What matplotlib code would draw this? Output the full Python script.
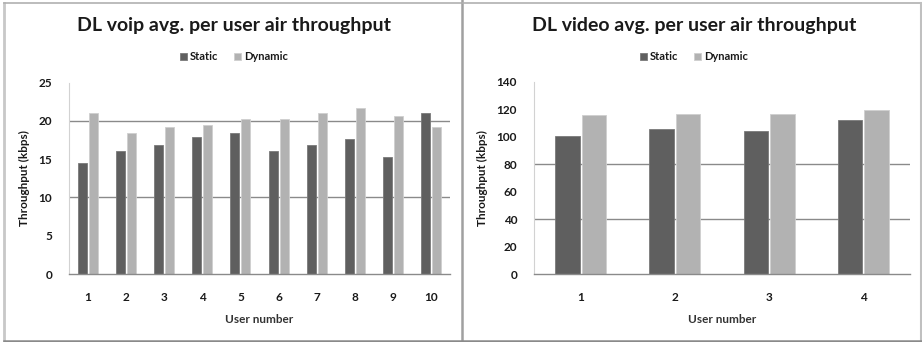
import matplotlib
matplotlib.use("Agg")
import matplotlib.pyplot as plt
import numpy as np
from matplotlib.lines import Line2D

plt.rcParams['font.family'] = ['Lato', 'DejaVu Sans']
plt.rcParams['font.weight'] = 'bold'

# DL voip per-user throughput (kbps)
voip_users = ['1', '2', '3', '4', '5', '6', '7', '8', '9', '10']
voip_static = [14.45, 16.1, 16.9, 17.9, 18.45, 16.1, 16.9, 17.6, 15.3, 21.05]
voip_dynamic = [21.05, 18.45, 19.2, 19.45, 20.3, 20.3, 21.05, 21.75, 20.6, 19.2]
voip_yticks = [0, 5, 10, 15, 20, 25]
voip_grid = [10, 20]

# DL video per-user throughput (kbps)
video_users = ['1', '2', '3', '4']
video_static = [100.7, 105.6, 103.9, 112.1]
video_dynamic = [115.8, 116.7, 116.7, 119.4]
video_yticks = [0, 20, 40, 60, 80, 100, 120, 140]
video_grid = [40, 80]

C_STATIC = '#5f5f5f'
C_DYNAMIC = '#b2b2b2'
TXT = '#1a1a1a'
W, H = 922, 342

fig = plt.figure(figsize=(9.22, 3.42), dpi=100)
fig.patch.set_facecolor('white')


def panel(rect, cx_px, users, s_vals, d_vals, yticks, grid, title, width, offset):
    ax = fig.add_axes(rect)
    x = np.arange(len(users))
    for g in grid:
        ax.axhline(g, color='#8a8a8a', lw=1.0, zorder=1)
    ax.bar(x - offset, s_vals, width, color=C_STATIC, edgecolor='#7a7a7a',
           lw=0.6, zorder=2, label='Static')
    ax.bar(x + offset, d_vals, width, color=C_DYNAMIC, edgecolor='#cfcfcf',
           lw=0.6, zorder=2, label='Dynamic')
    ax.set_xlim(-0.5, len(users) - 0.5)
    ax.set_ylim(yticks[0], yticks[-1])
    ax.set_yticks(yticks)
    ax.set_xticks(x)
    ax.set_xticklabels(users)
    ax.tick_params(axis='both', length=0, labelsize=8.5, colors=TXT)
    ax.tick_params(axis='y', pad=12)
    ax.tick_params(axis='x', pad=13)
    for lab in ax.get_xticklabels() + ax.get_yticklabels():
        lab.set_fontweight('bold')
    for side in ('top', 'right'):
        ax.spines[side].set_visible(False)
    ax.spines['left'].set_color('#d2d2d2')
    ax.spines['bottom'].set_color('#8a8a8a')
    ax.spines['bottom'].set_linewidth(1.0)
    ax.set_xlabel('User number', fontsize=8.5, fontweight='bold',
                  color='#333333', labelpad=8)
    ax.set_ylabel('Throughput (kbps)', fontsize=8.5, fontweight='bold',
                  color=TXT, labelpad=6)
    cx = cx_px / W
    fig.text(cx, 1 - 25 / H, title, ha='center', va='center',
             fontsize=14, fontweight='bold', color=TXT)
    leg = ax.legend(loc='center', bbox_to_anchor=(cx, (H - 57) / H),
                    bbox_transform=fig.transFigure, ncol=2, frameon=False,
                    prop={'size': 8, 'weight': 'bold'},
                    handlelength=0.6, handleheight=0.6,
                    handletextpad=0.3, columnspacing=1.4)
    for t in leg.get_texts():
        t.set_color(TXT)
    return ax


panel([69 / W, 0.1988, 381 / W, 0.5594], 234, voip_users, voip_static,
      voip_dynamic, voip_yticks, voip_grid,
      'DL voip avg. per user air throughput', 0.235, 0.144)
panel([533.7 / W, 0.1988, 376.6 / W, 0.5623], 694, video_users, video_static,
      video_dynamic, video_yticks, video_grid,
      'DL video avg. per user air throughput', 0.26, 0.141)


# Panel frames
def px_line(x0, y0, x1, y1, color, lw):
    fig.add_artist(Line2D([x0 / W, x1 / W], [1 - y0 / H, 1 - y1 / H],
                          color=color, lw=lw, transform=fig.transFigure))


px_line(4, 3, 4, 341, '#c8c8c8', 2.0)
px_line(4, 3, 461, 3, '#b0b0b0', 1.2)
px_line(462, 0, 462, 341, '#a0a0a0', 1.8)
px_line(462, 3, 921, 3, '#b0b0b0', 1.2)
px_line(921, 3, 921, 341, '#c0c0c0', 1.5)
px_line(4, 340.5, 921, 340.5, '#8a8a8a', 1.8)

fig.savefig('out.png', dpi=100, facecolor='white')
